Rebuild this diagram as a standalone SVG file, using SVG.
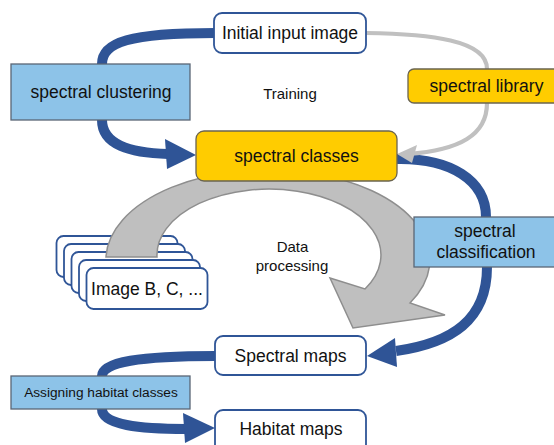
<svg xmlns="http://www.w3.org/2000/svg" width="554" height="445" viewBox="0 0 554 445">
<style>
text{font-family:"Liberation Sans",Arial,sans-serif;fill:#111;text-anchor:middle}
.t{font-size:17.5px}
.s{font-size:15px}
.w{fill:#fff;stroke:#2F5597;stroke-width:1.8}
.b{fill:#8DC3E8;stroke:#5A6675;stroke-width:1.3}
.y{fill:#FFCC00;stroke:#6A6450;stroke-width:1.3}
.bl{fill:none;stroke:#2F5496;stroke-width:10}
.bh{fill:#2F5496}
.gl{fill:none;stroke:#C0C0C0;stroke-width:4.2}
.gh{fill:#C0C0C0}
.big{fill:#BFBFBF;stroke:#8E8E8E;stroke-width:1.5}
</style>
<rect width="554" height="445" fill="#fff"/>
<g id="images">
<rect class="w" x="56.5" y="236" width="121" height="41" rx="7"/>
<rect class="w" x="64" y="244" width="121" height="41" rx="7"/>
<rect class="w" x="71.5" y="252" width="121" height="41" rx="7"/>
<rect class="w" x="79" y="260" width="121" height="41" rx="7"/>
<rect class="w" x="86.5" y="268" width="121" height="41" rx="7"/>
<text class="t" x="147" y="295">Image B, C, ...</text>
</g>
<g id="connectors">
<path class="big" d="M106,257 A162,90 0 1 1 410,303 L445,315 L353,328 L330,278 L365,289 A112,66 0 1 0 157,257 Z"/>
<path class="bl" d="M215,33 C130,33 102,42 102,64"/>
<path class="bl" d="M102,120 C102,145 130,153 168,154"/>
<polygon class="bh" points="165,139 196,155 167,169"/>
<path class="bl" d="M486,217 C486,180 450,158 397,159"/>
<path class="bl" d="M487,267 C487,320 452,343 396,351"/>
<polygon class="bh" points="395,338 367,356 397,367"/>
<path class="bl" d="M215,356 C140,356 102,362 102,376"/>
<path class="bl" d="M102,409 C102,425 140,429 186,429"/>
<polygon class="bh" points="183,413 215,428 185,443"/>
<path class="gl" d="M366,33 C430,34 487,40 487,69"/>
<path class="gl" d="M487,103 C487,135 460,150 408,154"/>
<polygon class="gh" points="417,145 397,154 412,163"/>
</g>
<g id="initial">
<rect class="w" x="214" y="13" width="152" height="40" rx="8"/>
<text class="t" x="290" y="39">Initial input image</text>
</g>
<g id="clustering">
<rect class="b" x="11" y="64" width="179" height="56"/>
<text class="t" x="101" y="98">spectral clustering</text>
</g>
<g id="training"><text class="s" x="290" y="99">Training</text></g>
<g id="library">
<rect class="y" x="408" y="69" width="157" height="34" rx="6"/>
<text class="t" x="486.5" y="92">spectral library</text>
</g>
<g id="classes">
<rect class="y" x="196" y="131" width="201" height="50" rx="8"/>
<text class="t" x="296.5" y="162">spectral classes</text>
</g>
<g id="classification">
<rect class="b" x="414" y="217" width="150" height="50"/>
<text class="t" x="485" y="237">spectral</text>
<text class="t" x="486" y="258">classification</text>
</g>
<g id="dataproc">
<text class="s" x="292.5" y="252">Data</text>
<text class="s" x="292" y="270.5">processing</text>
</g>
<g id="spectralmaps">
<rect class="w" x="215" y="336" width="151" height="39" rx="8"/>
<text class="t" x="290.5" y="362">Spectral maps</text>
</g>
<g id="assigning">
<rect class="b" x="11" y="376" width="179" height="33"/>
<text x="101" y="397" style="font-size:13.7px">Assigning habitat classes</text>
</g>
<g id="habitat">
<rect class="w" x="215" y="410" width="151" height="45" rx="8"/>
<text class="t" x="291" y="435">Habitat maps</text>
</g>
</svg>
